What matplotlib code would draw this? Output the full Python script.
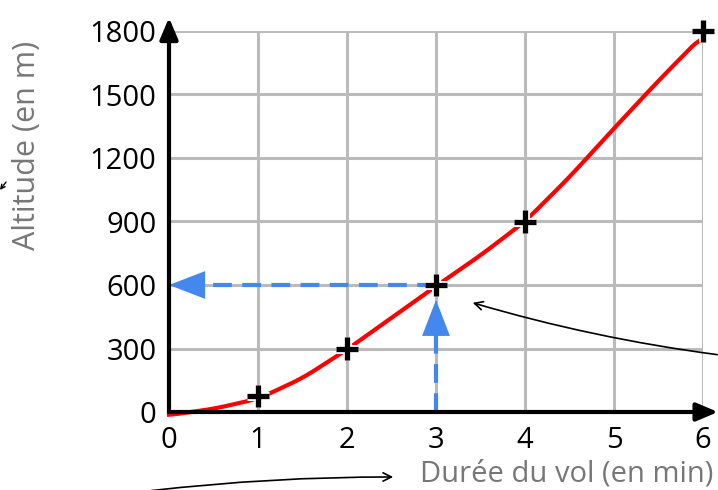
import numpy as np
import matplotlib
matplotlib.use("Agg")
import matplotlib.pyplot as plt
import matplotlib.patheffects as pe
from matplotlib.patches import FancyArrowPatch

# measured points (duration in min, altitude in m)
t_pts = [1, 2, 3, 4, 6]
alt_pts = [75, 300, 600, 900, 1800]

# red curve
t_curve = [0, 0.5, 1, 1.5, 2, 2.5, 3, 3.5, 4, 4.5, 5, 5.5, 6]
alt_curve = [-15, 15, 62, 160, 295, 445, 595, 740, 900, 1110, 1340, 1565, 1780]

x_ticks = [0, 1, 2, 3, 4, 5, 6]
y_ticks = [0, 300, 600, 900, 1200, 1500, 1800]

read_t = 3
read_alt = 600

font = "Open Sans"

fig = plt.figure(figsize=(7.18, 4.90), dpi=100)
ax = fig.add_axes([169 / 718, 78 / 490, 534 / 718, 381 / 490])
ax.set_xlim(0, 6)
ax.set_ylim(0, 1800)

for s in ax.spines.values():
    s.set_visible(False)

grey = "#bbbbbb"
for x in x_ticks[1:]:
    ax.axvline(x, color=grey, lw=2.2, zorder=1)
for y in y_ticks[1:]:
    ax.axhline(y, color=grey, lw=2.2, zorder=1)

ax.set_xticks(x_ticks)
ax.set_yticks(y_ticks)
ax.set_xticklabels([str(v) for v in x_ticks], fontsize=21, family=font)
ax.set_yticklabels([str(v) for v in y_ticks], fontsize=21, family=font)
ax.tick_params(axis="y", length=0, pad=9)
ax.tick_params(axis="x", length=0, pad=10)

# smooth the red curve a bit for drawing
tc = np.array(t_curve)
ac = np.array(alt_curve)
tt = np.linspace(0, 6, 300)
aa = np.interp(tt, tc, ac)
k = np.ones(15) / 15
aa_s = np.convolve(np.pad(aa, 7, mode="edge"), k, mode="valid")
ax.plot(tt, aa_s, color="#ff0000", lw=3, zorder=3, clip_on=False)

# blue reading arrows
blue = "#4488ee"
head = "-|>,head_length=2.6,head_width=1.0"
ax.plot([read_t, 0.3], [read_alt, read_alt], color=blue, lw=3,
        dashes=(4.5, 2.5), zorder=2)
ax.plot([read_t, read_t], [0, read_alt - 200], color=blue, lw=3,
        dashes=(4.5, 2.5), zorder=2)
ax.annotate("", xy=(0, read_alt), xytext=(0.5, read_alt),
            arrowprops=dict(arrowstyle=head, color=blue, lw=0,
                            shrinkA=0, shrinkB=0), zorder=4)
ax.annotate("", xy=(read_t, read_alt - 70), xytext=(read_t, read_alt - 250),
            arrowprops=dict(arrowstyle=head, color=blue, lw=0,
                            shrinkA=0, shrinkB=0), zorder=4)

# plus markers
ax.plot(t_pts, alt_pts, linestyle="none", marker="+", ms=16, mew=3.8,
        color="black", zorder=5, clip_on=False,
        path_effects=[pe.withStroke(linewidth=6.5, foreground="white")])

# axes with arrows
ax.annotate("", xy=(1.028, 0), xytext=(0, 0), xycoords="axes fraction",
            arrowprops=dict(arrowstyle="-|>,head_length=1.3,head_width=0.55",
                            color="black", lw=3, shrinkA=0, shrinkB=0),
            annotation_clip=False, zorder=6)
ax.annotate("", xy=(0, 1.035), xytext=(0, 0), xycoords="axes fraction",
            arrowprops=dict(arrowstyle="-|>,head_length=1.3,head_width=0.55",
                            color="black", lw=3, shrinkA=0, shrinkB=0),
            annotation_clip=False, zorder=6)

# axis titles
fig.text(27 / 718, 1 - 145 / 490, "Altitude (en m)", rotation=90,
         color="#777777", fontsize=22, family=font, ha="center", va="center")
fig.text(713 / 718, 1 - 474 / 490, "Durée du vol (en min)",
         color="#777777", fontsize=21, family=font, ha="right", va="center")

# thin pointer arrows
def px(x, y):
    return (x / 718, 1 - y / 490)

fig.add_artist(FancyArrowPatch(px(720, 355), px(470, 302),
                               transform=fig.transFigure,
                               connectionstyle="arc3,rad=-0.04",
                               arrowstyle="->,head_length=6,head_width=3",
                               color="black", lw=1.2))
fig.add_artist(FancyArrowPatch(px(148, 491), px(396, 477),
                               transform=fig.transFigure,
                               connectionstyle="arc3,rad=-0.03",
                               arrowstyle="->,head_length=6,head_width=3",
                               color="black", lw=1.2))
fig.add_artist(FancyArrowPatch(px(6, 182), px(0, 190),
                               transform=fig.transFigure,
                               shrinkA=0, shrinkB=0,
                               arrowstyle="->,head_length=3,head_width=1.5",
                               color="black", lw=1.0))

fig.savefig("out.png", dpi=100)
